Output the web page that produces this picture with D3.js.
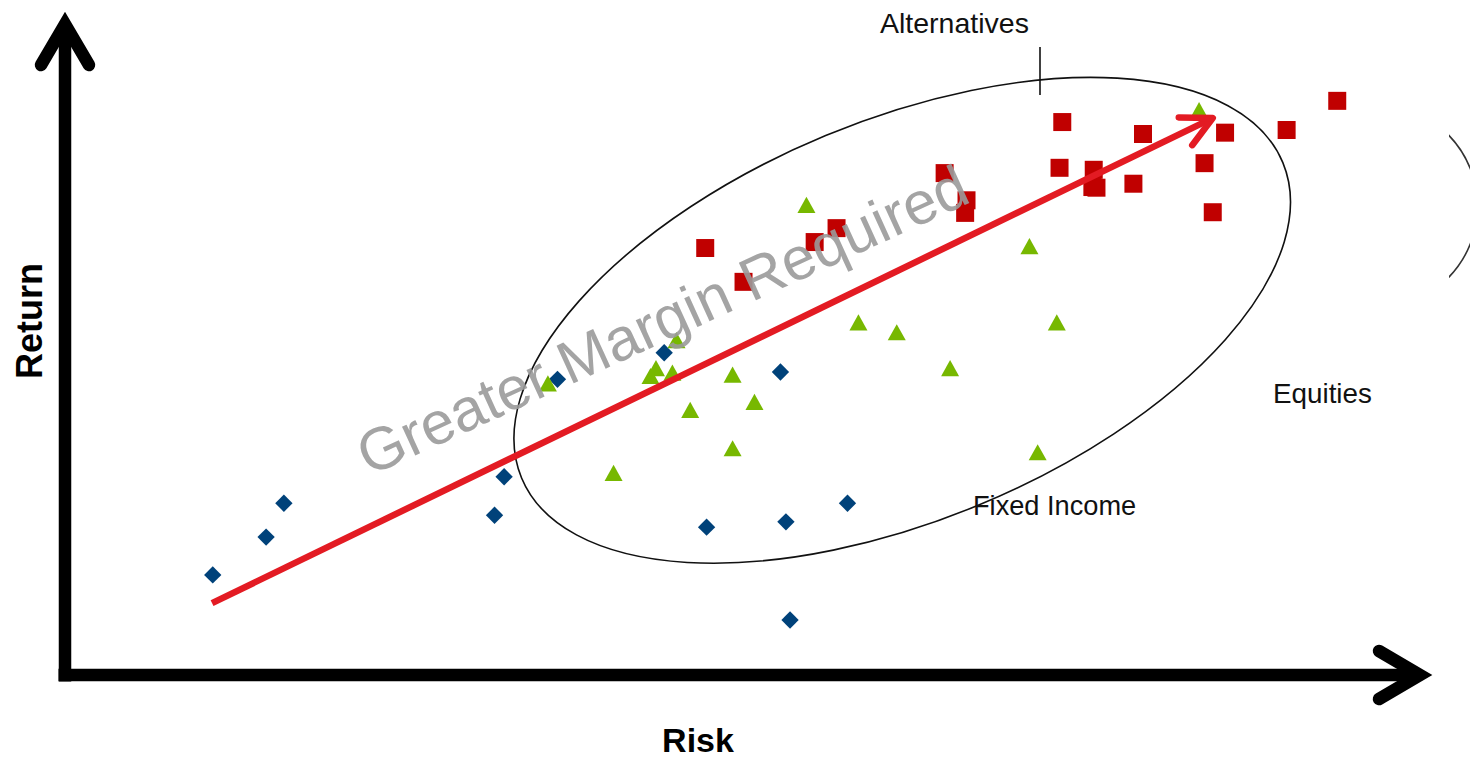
<!DOCTYPE html>
<html>
<head>
<meta charset="utf-8">
<script src="https://cdn.jsdelivr.net/npm/d3@7"></script>
<style>
  html, body { margin: 0; padding: 0; background: #ffffff; }
  svg { display: block; }
  text { font-family: "Liberation Sans", Arial, sans-serif; }
</style>
</head>
<body>
<svg id="chart" width="1470" height="760"></svg>
<script>
// Risk / return scatter: fixed income, alternatives, equities
const fixedIncome = [
  [10.8, 15.1], [14.7, 20.8], [16.0, 25.9], [31.4, 24.1], [32.1, 29.9],
  [36.0, 44.6], [43.8, 48.6], [52.3, 45.7], [46.9, 22.3], [52.7, 23.1],
  [57.2, 25.9], [53.0, 8.3]
];
const alternatives = [
  [35.3, 44.0], [40.1, 30.5], [42.8, 45.1], [43.2, 46.3], [44.4, 45.6],
  [44.7, 50.5], [48.8, 45.3], [45.7, 40.0], [50.4, 41.2], [48.8, 34.2],
  [54.2, 70.9], [58.0, 53.2], [60.8, 51.7], [64.7, 46.3], [70.5, 64.7],
  [72.5, 53.2], [71.1, 33.6], [82.9, 85.2]
];
const equities = [
  [46.8, 64.4], [49.6, 59.3], [54.8, 65.3], [56.4, 67.4], [64.3, 75.7],
  [65.9, 71.6], [65.8, 69.7], [72.9, 83.4], [72.7, 76.5], [75.2, 76.2],
  [75.1, 73.6], [75.4, 73.5], [78.1, 74.1], [78.8, 81.6], [83.3, 77.2],
  [83.9, 69.8], [84.8, 81.8], [89.3, 82.2], [93.0, 86.6]
];
// Trend arrow from low risk / low return to high risk / high return
const trendLine = [[10.75, 10.85], [83.9, 84.0]];

const axisTitles = { x: "Risk", y: "Return" };
const groupLabels = ["Alternatives", "Equities", "Fixed Income"];
const watermark = "Greater Margin Required";

const svg = d3.select("#chart");
const x = d3.scaleLinear().domain([0, 100]).range([65, 1433]);
const y = d3.scaleLinear().domain([0, 100]).range([675, 12]);

// ---- group outlines ----
const cx = x(61.2), cy = y(53.5);
svg.append("ellipse")
  .attr("cx", 0).attr("cy", 0).attr("rx", 412).attr("ry", 200)
  .attr("transform", `translate(${cx},${cy}) rotate(-22.5)`)
  .attr("fill", "none").attr("stroke", "#111").attr("stroke-width", 1.6);

// partial outline at the right edge
svg.append("clipPath").attr("id", "edgeClip")
  .append("rect").attr("x", 1449).attr("y", 100).attr("width", 40).attr("height", 220);
svg.append("circle")
  .attr("cx", x(95.8)).attr("cy", y(70.7)).attr("r", 102)
  .attr("clip-path", "url(#edgeClip)")
  .attr("fill", "none").attr("stroke", "#333").attr("stroke-width", 1.6);

// ---- markers ----
const triangle = {
  draw(ctx, size) {
    const w = Math.sqrt(size);
    ctx.moveTo(0, -w * 0.45);
    ctx.lineTo(w / 2, w * 0.45);
    ctx.lineTo(-w / 2, w * 0.45);
    ctx.closePath();
  }
};

svg.append("g").selectAll("path").data(fixedIncome).join("path")
  .attr("d", d3.symbol(d3.symbolSquare, 150)())
  .attr("transform", d => `translate(${x(d[0])},${y(d[1])}) rotate(45)`)
  .attr("fill", "#00427a");

svg.append("g").selectAll("path").data(alternatives).join("path")
  .attr("d", d3.symbol(triangle, 324)())
  .attr("transform", d => `translate(${x(d[0])},${y(d[1])})`)
  .attr("fill", "#77b800");

svg.append("g").selectAll("path").data(equities).join("path")
  .attr("d", d3.symbol(d3.symbolSquare, 324)())
  .attr("transform", d => `translate(${x(d[0])},${y(d[1])})`)
  .attr("fill", "#c00000");

// ---- watermark ----
svg.append("text")
  .attr("transform", "translate(671,339) rotate(-24.5)")
  .attr("text-anchor", "middle")
  .attr("font-size", 60)
  .attr("fill", "#9a9a9a")
  .attr("fill-opacity", 0.9)
  .text(watermark);

// ---- trend arrow ----
const [p0, p1] = trendLine.map(d => [x(d[0]), y(d[1])]);
const ang = Math.atan2(p1[1] - p0[1], p1[0] - p0[0]);
const headLen = 34, headSpread = 27 * Math.PI / 180;
const armA = [p1[0] - headLen * Math.cos(ang - headSpread), p1[1] - headLen * Math.sin(ang - headSpread)];
const armB = [p1[0] - headLen * Math.cos(ang + headSpread), p1[1] - headLen * Math.sin(ang + headSpread)];
svg.append("line")
  .attr("x1", p0[0]).attr("y1", p0[1]).attr("x2", p1[0] - 3 * Math.cos(ang)).attr("y2", p1[1] - 3 * Math.sin(ang))
  .attr("stroke", "#e31b23").attr("stroke-width", 6.5).attr("stroke-linecap", "butt");
svg.append("path")
  .attr("d", `M${armA[0]},${armA[1]}L${p1[0]},${p1[1]}L${armB[0]},${armB[1]}`)
  .attr("fill", "none").attr("stroke", "#e31b23").attr("stroke-width", 6.5)
  .attr("stroke-linecap", "round").attr("stroke-linejoin", "round");

// ---- axes with arrowheads ----
const x0 = x(0), y0 = y(0), xEnd = x(100), yEnd = y(100);
const axisStroke = { color: "#000", width: 12.5 };
// vertical axis
svg.append("line")
  .attr("x1", x0).attr("y1", y0 + 6.5).attr("x2", x0).attr("y2", yEnd + 14)
  .attr("stroke", axisStroke.color).attr("stroke-width", axisStroke.width);
svg.append("path")
  .attr("d", `M${x0 - 24},${yEnd + 53}L${x0},${yEnd + 12}L${x0 + 24},${yEnd + 53}`)
  .attr("fill", "none").attr("stroke", axisStroke.color).attr("stroke-width", axisStroke.width)
  .attr("stroke-linecap", "round").attr("stroke-linejoin", "miter").attr("stroke-miterlimit", 10);
// horizontal axis
svg.append("line")
  .attr("x1", x0 - 6.5).attr("y1", y0).attr("x2", xEnd - 14).attr("y2", y0)
  .attr("stroke", axisStroke.color).attr("stroke-width", axisStroke.width);
svg.append("path")
  .attr("d", `M${xEnd - 54},${y0 - 24}L${xEnd - 13},${y0}L${xEnd - 54},${y0 + 24}`)
  .attr("fill", "none").attr("stroke", axisStroke.color).attr("stroke-width", axisStroke.width)
  .attr("stroke-linecap", "round").attr("stroke-linejoin", "miter").attr("stroke-miterlimit", 10);

// axis titles
svg.append("text")
  .attr("x", 698).attr("y", 752)
  .attr("text-anchor", "middle").attr("font-size", 34).attr("font-weight", "bold")
  .attr("fill", "#000").text(axisTitles.x);
svg.append("text")
  .attr("transform", "translate(42,321) rotate(-90)")
  .attr("text-anchor", "middle").attr("font-size", 36).attr("font-weight", "bold")
  .attr("fill", "#000").text(axisTitles.y);

// ---- group labels ----
const labelPos = [[880, 33], [1273, 403], [973, 515]];
const labelSize = [28.5, 27.8, 27.2];
svg.append("g").selectAll("text").data(groupLabels).join("text")
  .attr("x", (d, i) => labelPos[i][0]).attr("y", (d, i) => labelPos[i][1])
  .attr("font-size", (d, i) => labelSize[i]).attr("fill", "#111")
  .text(d => d);

// leader from the Alternatives label to its outline
svg.append("line")
  .attr("x1", 1040).attr("y1", 47).attr("x2", 1040).attr("y2", 95)
  .attr("stroke", "#111").attr("stroke-width", 1.6);
</script>
</body>
</html>
